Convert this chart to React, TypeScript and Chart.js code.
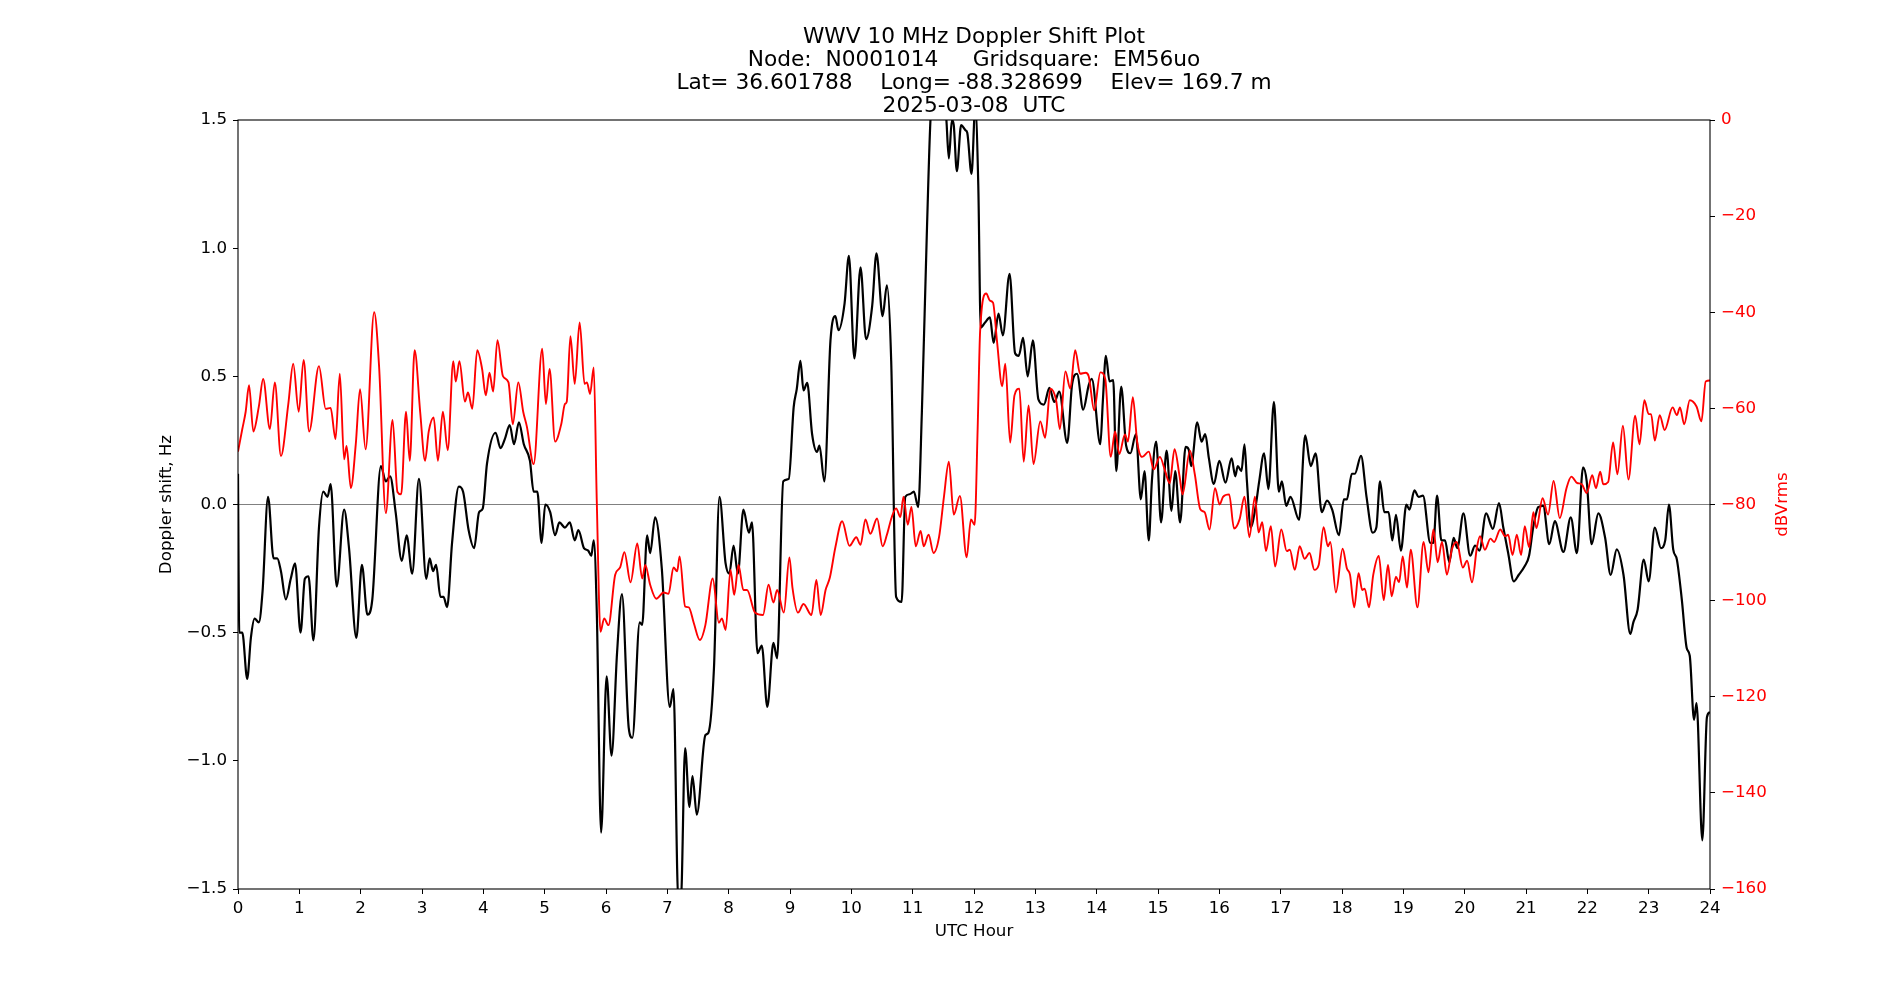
import React, { useEffect, useRef } from "react";
import { Chart, registerables } from "chart.js";

Chart.register(...registerables);

const titleLines = [
  "WWV 10 MHz Doppler Shift Plot",
  "Node:  N0001014     Gridsquare:  EM56uo",
  "Lat= 36.601788    Long= -88.328699    Elev= 169.7 m",
  "2025-03-08  UTC",
];

const xAxisLabel = "UTC Hour";
const leftAxisLabel = "Doppler shift, Hz";
const rightAxisLabel = "dBVrms";

// Doppler shift (black), Hz
const dopplerHours = [
  0.0, 0.02, 0.07, 0.15, 0.21, 0.27, 0.34, 0.4, 0.49, 0.58, 0.64, 0.7, 0.78, 0.86, 0.93,
  1.02, 1.09, 1.15, 1.23, 1.32, 1.39, 1.46, 1.51, 1.61, 1.73, 1.81, 1.93,
  2.02, 2.11, 2.19, 2.33, 2.41, 2.48, 2.57, 2.67, 2.75, 2.84, 2.95,
  3.07, 3.125, 3.18, 3.23, 3.3, 3.35, 3.41, 3.49, 3.6, 3.67, 3.76, 3.85, 3.93, 3.99,
  4.06, 4.2, 4.28, 4.35, 4.43, 4.5, 4.58, 4.66, 4.76, 4.82, 4.88, 4.95,
  5.01, 5.09, 5.17, 5.24, 5.33, 5.41, 5.49, 5.55, 5.64, 5.71, 5.76, 5.8, 5.85, 5.92,
  6.01, 6.09, 6.18, 6.26, 6.37, 6.43, 6.55, 6.59, 6.67, 6.72, 6.8, 6.91,
  7.04, 7.1, 7.18, 7.22, 7.29, 7.36, 7.41, 7.48, 7.62, 7.67, 7.76, 7.85, 7.95,
  8.01, 8.08, 8.15, 8.24, 8.33, 8.38, 8.47, 8.54, 8.63, 8.73, 8.79, 8.89, 8.98,
  9.06, 9.11, 9.17, 9.22, 9.28, 9.36, 9.44, 9.48, 9.56, 9.66, 9.74, 9.79, 9.89, 9.96,
  10.05, 10.15, 10.24, 10.34, 10.41, 10.51, 10.58, 10.65, 10.73, 10.82, 10.88, 10.95,
  11.02, 11.09, 11.15, 11.23, 11.29, 11.35, 11.5, 11.55, 11.59, 11.64, 11.67, 11.72, 11.79, 11.86, 11.89, 11.96,
  12.02, 12.07, 12.11, 12.18, 12.26, 12.32, 12.4, 12.47, 12.58, 12.67, 12.73, 12.8, 12.875, 12.96,
  13.05, 13.14, 13.23, 13.31, 13.39, 13.52, 13.6, 13.68, 13.78, 13.87, 13.92,
  14.06, 14.1, 14.15, 14.21, 14.27, 14.32, 14.4, 14.48, 14.55, 14.64, 14.72, 14.78, 14.85, 14.9, 14.97,
  15.05, 15.14, 15.22, 15.28, 15.36, 15.45, 15.5, 15.54, 15.64, 15.71, 15.77, 15.83, 15.91,
  16.0, 16.1, 16.2, 16.26, 16.3, 16.36, 16.41, 16.45, 16.51, 16.59, 16.65, 16.73, 16.8, 16.89, 16.97,
  17.02, 17.09, 17.16, 17.3, 17.4, 17.49, 17.57, 17.67, 17.755, 17.84, 17.95,
  18.03, 18.08, 18.16, 18.21, 18.31, 18.4, 18.5, 18.56, 18.62, 18.69, 18.76, 18.82, 18.88, 18.96,
  19.05, 19.1, 19.18, 19.25, 19.32, 19.44, 19.49, 19.55, 19.62, 19.68, 19.75, 19.82, 19.88, 19.98,
  20.09, 20.17, 20.24, 20.35, 20.46, 20.56, 20.63, 20.71, 20.8, 20.88, 20.98,
  21.05, 21.12, 21.2, 21.28, 21.38, 21.47, 21.61, 21.73, 21.83, 21.93, 21.99,
  22.07, 22.18, 22.29, 22.38, 22.48, 22.59, 22.7, 22.75, 22.82, 22.92,
  23.0, 23.1, 23.2, 23.27, 23.33, 23.4, 23.46, 23.54, 23.62, 23.67, 23.74, 23.78, 23.875, 23.95, 24.0,
];
const dopplerHz = [
  0.12, -0.5, -0.5, -0.68, -0.52, -0.445, -0.46, -0.34, 0.03, -0.21, -0.21, -0.26, -0.37, -0.29, -0.23,
  -0.5, -0.29, -0.28, -0.53, -0.09, 0.05, 0.03, 0.08, -0.32, -0.02, -0.17, -0.52,
  -0.235, -0.43, -0.37, 0.15, 0.09, 0.11, -0.03, -0.22, -0.12, -0.27, 0.1,
  -0.29, -0.21, -0.26, -0.235, -0.36, -0.36, -0.4, -0.15, 0.07, 0.05, -0.1, -0.17, -0.03, -0.016,
  0.16, 0.28, 0.22, 0.255, 0.31, 0.235, 0.32, 0.235, 0.17, 0.05, 0.05, -0.15,
  0.0, -0.03, -0.12, -0.07, -0.09, -0.07, -0.14, -0.1, -0.17, -0.18, -0.2, -0.14, -0.42, -1.28,
  -0.67, -0.98, -0.58, -0.35, -0.87, -0.91, -0.46, -0.47, -0.12, -0.19, -0.05, -0.25,
  -0.79, -0.72, -1.55, -1.55, -0.95, -1.18, -1.06, -1.21, -0.9, -0.89, -0.64, 0.03, -0.23,
  -0.27, -0.16, -0.27, -0.02, -0.11, -0.07, -0.58, -0.55, -0.79, -0.54, -0.6, 0.09, 0.1,
  0.38, 0.45, 0.56, 0.445, 0.475, 0.275, 0.205, 0.23, 0.09, 0.64, 0.735, 0.68, 0.785, 0.97,
  0.57, 0.925, 0.645, 0.775, 0.98, 0.735, 0.855, 0.56, -0.36, -0.38, 0.03, 0.04,
  0.05, -0.01, 0.36, 1.05, 1.5, 1.65, 1.65, 1.5, 1.35, 1.5, 1.48, 1.3, 1.48, 1.46, 1.45, 1.29,
  1.55, 1.245, 0.69, 0.71, 0.73, 0.63, 0.745, 0.66, 0.9, 0.59, 0.58, 0.65, 0.5, 0.64,
  0.41, 0.39, 0.455, 0.4, 0.44, 0.24, 0.47, 0.51, 0.37, 0.465, 0.49,
  0.235, 0.4, 0.58, 0.48, 0.485, 0.13, 0.46, 0.23, 0.2, 0.275, 0.02, 0.13, -0.14, 0.09, 0.245,
  -0.07, 0.21, -0.025, 0.13, -0.07, 0.225, 0.215, 0.15, 0.32, 0.245, 0.275, 0.18, 0.08,
  0.17, 0.085, 0.18, 0.11, 0.15, 0.13, 0.235, 0.09, -0.09, -0.01, 0.09, 0.2, 0.06, 0.4, 0.05,
  0.09, -0.005, 0.03, -0.06, 0.27, 0.15, 0.2, -0.03, 0.015, -0.02, -0.12,
  0.02, 0.02, 0.12, 0.12, 0.19, 0.03, -0.11, -0.09, 0.09, -0.03, -0.03, -0.14, -0.04, -0.18,
  0.0, -0.02, 0.055, 0.03, 0.035, -0.15, -0.15, 0.035, -0.14, -0.14, -0.225, -0.13, -0.17, -0.035,
  -0.2, -0.16, -0.18, -0.035, -0.095, 0.005, -0.09, -0.19, -0.3, -0.275, -0.24,
  -0.2, -0.085, -0.01, -0.005, -0.155, -0.065, -0.185, -0.05, -0.19, 0.145, 0.09,
  -0.155, -0.035, -0.13, -0.275, -0.175, -0.275, -0.505, -0.46, -0.41, -0.215,
  -0.3, -0.09, -0.17, -0.14, 0.0, -0.175, -0.215, -0.37, -0.56, -0.59, -0.84, -0.775, -1.31, -0.83, -0.81,
];

// Received power (red), dBVrms
const powerHours = [
  0.0, 0.07, 0.125, 0.18, 0.25, 0.34, 0.41, 0.52, 0.6, 0.7, 0.82, 0.9, 0.99,
  1.07, 1.16, 1.32, 1.43, 1.51, 1.59, 1.66, 1.73, 1.77, 1.84, 1.92, 1.99,
  2.08, 2.22, 2.3, 2.41, 2.52, 2.6, 2.66, 2.74, 2.8, 2.88, 2.97,
  3.05, 3.11, 3.19, 3.26, 3.34, 3.42, 3.51, 3.55, 3.61, 3.7, 3.75, 3.82, 3.9, 3.98,
  4.04, 4.1, 4.16, 4.23, 4.32, 4.41, 4.48, 4.57, 4.65, 4.71, 4.82, 4.96,
  5.02, 5.08, 5.17, 5.27, 5.33, 5.36, 5.42, 5.49, 5.57, 5.65, 5.69, 5.74, 5.8, 5.85, 5.91, 5.97,
  6.04, 6.15, 6.23, 6.3, 6.4, 6.51, 6.59, 6.64, 6.72, 6.82, 6.94,
  7.02, 7.1, 7.16, 7.2, 7.29, 7.35, 7.43, 7.53, 7.62, 7.74, 7.84, 7.89, 7.95,
  8.03, 8.09, 8.16, 8.24, 8.3, 8.43, 8.56, 8.65, 8.73, 8.79, 8.9, 8.99,
  9.04, 9.13, 9.22, 9.35, 9.43, 9.5, 9.58, 9.65, 9.74, 9.85, 9.97,
  10.08, 10.15, 10.23, 10.31, 10.42, 10.51, 10.58, 10.66, 10.73, 10.8, 10.85, 10.92, 10.98,
  11.05, 11.13, 11.18, 11.26, 11.34, 11.43, 11.51, 11.59, 11.67, 11.77, 11.88, 11.95,
  12.01, 12.06, 12.1, 12.2, 12.26, 12.31, 12.375, 12.46, 12.51, 12.59, 12.66, 12.74, 12.81, 12.89, 12.97,
  13.08, 13.16, 13.245, 13.34, 13.4, 13.49, 13.57, 13.65, 13.73, 13.82, 13.87, 13.96,
  14.06, 14.14, 14.23, 14.3, 14.37, 14.46, 14.51, 14.59, 14.66, 14.74, 14.85, 14.93,
  15.03, 15.12, 15.19, 15.27, 15.35, 15.4, 15.52, 15.6, 15.69, 15.76, 15.84, 15.93,
  16.005, 16.06, 16.16, 16.24, 16.33, 16.41, 16.49, 16.58, 16.64, 16.7, 16.76, 16.84, 16.91,
  17.01, 17.1, 17.15, 17.23, 17.31, 17.39, 17.47, 17.55, 17.62, 17.7, 17.77, 17.81, 17.9,
  18.01, 18.08, 18.13, 18.2, 18.27, 18.33, 18.37, 18.44, 18.51, 18.6, 18.68, 18.75, 18.81, 18.88, 18.93, 18.99,
  19.06, 19.12, 19.23, 19.33, 19.41, 19.49, 19.56, 19.63, 19.71, 19.79, 19.87, 19.97,
  20.04, 20.12, 20.2, 20.25, 20.33, 20.42, 20.48, 20.58, 20.66, 20.71, 20.78, 20.85, 20.92, 20.98,
  21.05, 21.12, 21.17, 21.27, 21.36, 21.45, 21.55, 21.66, 21.74, 21.83, 21.91, 21.99,
  22.08, 22.14, 22.21, 22.26, 22.34, 22.42, 22.49, 22.58, 22.67, 22.78, 22.85, 22.93,
  23.0, 23.04, 23.1, 23.18, 23.26, 23.39, 23.46, 23.51, 23.58, 23.67, 23.78, 23.86, 23.93, 24.0,
];
const powerDbv = [
  -69, -64.3, -60.7, -55.2, -64.8, -59.6, -53.9, -64.3, -54.6, -69.9, -59.1, -50.7, -60.7,
  -49.9, -64.8, -51.2, -60.1, -59.9, -66.4, -52.8, -70.6, -67.8, -76.6, -67.5, -56,
  -68.5, -40, -51.2, -81.8, -62.4, -77.4, -77.9, -60.7, -70.9, -47.9, -60.7,
  -70.9, -64.8, -61.9, -70.9, -60.7, -68.7, -50.2, -54.4, -50.2, -58.6, -56.7, -60.1, -47.9, -51.8,
  -57.3, -52.6, -56.5, -45.8, -53.3, -54.6, -63.3, -54.6, -60.7, -63.8, -71.6, -47.6,
  -59.1, -51.8, -66.9, -63.3, -59.1, -58.6, -45, -54.9, -42.1, -54.9, -54.6, -57, -51.5, -79.5, -106.5, -103.7,
  -105.1, -94.6, -93.1, -89.9, -96.2, -88.1, -95.4, -92.6, -96.7, -99.6, -98.3,
  -98.6, -93.1, -93.9, -90.8, -101.2, -101.4, -104.6, -108.2, -105.1, -95.4, -104.6, -103.7, -106.1,
  -93.6, -98.8, -92.6, -97.8, -97.8, -102.5, -103, -96.7, -100.4, -97.8, -102.5, -91,
  -97.3, -102.5, -100.7, -103, -95.7, -103, -97.8, -95.2, -88.9, -83.5, -88.6,
  -86.8, -88.4, -83.1, -86.1, -82.9, -88.7, -86.3, -82.6, -80.8, -82.6, -78.4, -84.2, -80.5,
  -88.7, -85.5, -88.7, -86.3, -90.1, -86.8, -78.4, -71.1, -82.1, -78.2, -91, -83.1,
  -84.2, -64, -43.9, -36.1, -37.6, -38, -46, -55.4, -50.7, -67.1, -57.3, -55.9, -71.1, -59.4, -71.6,
  -62.7, -66.1, -55.9, -58.4, -64.3, -52.3, -55.9, -47.9, -52.8, -52.6, -53.3, -60.4,
  -52.5, -53.9, -70.1, -64.8, -69.5, -65.4, -66.9, -57.7, -66.9, -70.1, -69, -72.7,
  -70.1, -73.2, -75.6, -68.5, -74, -77.9, -68.8, -73.7, -81, -81.6, -85.2, -76.6,
  -80, -78.4, -77.9, -85, -83.1, -78.4, -86.8, -78.4, -85.8, -83.7, -89.7, -84.5, -92.9,
  -85.2, -89.7, -89.4, -93.6, -88.7, -91.3, -90.1, -93.6, -92.6, -84.7, -88.7, -87.8, -98.3,
  -89.2, -93.3, -94.6, -101.4, -94.3, -97.8, -97.5, -101.4, -94.6, -90.7, -99.9, -92.6, -99.1, -95, -96.2, -90.8,
  -97.3, -89.4, -101.4, -87.8, -94.1, -85.2, -92, -87.8, -94.6, -89.4, -87.8, -93.1,
  -91.7, -96.2, -88.9, -86.6, -89.4, -87.1, -87.8, -85.2, -86.6, -86.3, -90.5, -86.3, -90.5, -84.5,
  -88.9, -81.6, -84.9, -78.7, -82.1, -75.1, -82.8, -76.6, -74.2, -75.5, -75.8, -77.6,
  -73.9, -76.6, -73.2, -75.8, -75.3, -67.1, -73.7, -63.6, -74.8, -61.5, -67.5, -58.3,
  -61.2, -61.2, -66.7, -61.4, -64.5, -59.8, -61.4, -59.8, -63.3, -58.3, -59.6, -62.7, -54.4, -54.2,
];

const zeroLineHours = [0, 24];
const zeroLineHz = [0, 0];

const FONT = "'DejaVu Sans', 'Liberation Sans', sans-serif";
const TICK_SIZE = 16.7;
const TITLE_SIZE = 21.7;

const withMinus = (s: string) => s.replace("-", "\u2212");

const framePlugin = {
  id: "frameBox",
  afterDatasetsDraw(chart: any) {
    const { ctx, chartArea } = chart;
    const { left, top, right, bottom } = chartArea;
    ctx.save();
    ctx.strokeStyle = "#000";
    ctx.lineWidth = 1.1;
    ctx.strokeRect(left, top, right - left, bottom - top);
    ctx.restore();
  },
};

// Right-hand axis label, reading bottom-to-top like the reference
const rightLabelPlugin = {
  id: "rightAxisLabel",
  afterDraw(chart: any) {
    const { ctx, chartArea } = chart;
    const cy = (chartArea.top + chartArea.bottom) / 2;
    const cx = chartArea.right + 72.5;
    ctx.save();
    ctx.translate(cx, cy);
    ctx.rotate(-Math.PI / 2);
    ctx.fillStyle = "#ff0000";
    ctx.font = `${TICK_SIZE}px ${FONT}`;
    ctx.textAlign = "center";
    ctx.textBaseline = "middle";
    ctx.fillText(rightAxisLabel, 0, 0);
    ctx.restore();
  },
};

export default function App() {
  const canvasRef = useRef<HTMLCanvasElement | null>(null);

  useEffect(() => {
    document.body.style.margin = "0";
    const canvas = canvasRef.current;
    if (!canvas) return;
    const toPoints = (xs: number[], ys: number[]) => xs.map((x, i) => ({ x, y: ys[i] }));

    const chart = new Chart(canvas, {
      type: "line",
      data: {
        datasets: [
          {
            label: rightAxisLabel,
            data: toPoints(powerHours, powerDbv),
            yAxisID: "y2",
            borderColor: "#ff0000",
            borderWidth: 1.9,
            pointRadius: 0,
            cubicInterpolationMode: "monotone",
            fill: false,
            order: 0,
            clip: 0,
          },
          {
            label: leftAxisLabel,
            data: toPoints(dopplerHours, dopplerHz),
            yAxisID: "y",
            borderColor: "#000000",
            borderWidth: 2.2,
            pointRadius: 0,
            cubicInterpolationMode: "monotone",
            fill: false,
            order: 1,
            clip: 0,
          },
          {
            label: "zero",
            data: toPoints(zeroLineHours, zeroLineHz),
            yAxisID: "y",
            borderColor: "#808080",
            borderWidth: 1.1,
            pointRadius: 0,
            fill: false,
            order: 2,
            clip: 0,
          },
        ],
      } as any,
      options: {
        responsive: false,
        animation: false,
        devicePixelRatio: 1,
        events: [],
        layout: { padding: 0 },
        plugins: {
          legend: { display: false },
          tooltip: { enabled: false },
          title: {
            display: true,
            text: titleLines,
            color: "#000",
            fullSize: false,
            align: "center",
            font: { family: FONT, size: TITLE_SIZE, weight: "normal", lineHeight: 23 / TITLE_SIZE },
            padding: { top: 26, bottom: 2 },
          },
        },
        scales: {
          x: {
            type: "linear",
            position: "bottom",
            min: 0,
            max: 24,
            ticks: {
              stepSize: 1,
              autoSkip: false,
              maxRotation: 0,
              color: "#000",
              padding: 5,
              font: { family: FONT, size: TICK_SIZE },
              callback: (v: any) => String(v),
            },
            grid: { drawOnChartArea: false, drawTicks: true, tickLength: 5, color: "#000" },
            border: { display: false },
            title: {
              display: true,
              text: xAxisLabel,
              color: "#000",
              font: { family: FONT, size: TICK_SIZE },
              padding: { top: 0, bottom: 58 },
            },
            afterFit: (s: any) => {
              s.height = 111;
            },
          },
          y: {
            type: "linear",
            position: "left",
            min: -1.5,
            max: 1.5,
            ticks: {
              stepSize: 0.5,
              color: "#000",
              padding: 6,
              font: { family: FONT, size: TICK_SIZE },
              callback: (v: any) => withMinus(Number(v).toFixed(1)),
            },
            grid: { drawOnChartArea: false, drawTicks: true, tickLength: 5, color: "#000" },
            border: { display: false },
            title: {
              display: true,
              text: leftAxisLabel,
              color: "#000",
              font: { family: FONT, size: TICK_SIZE },
              padding: { top: 157, bottom: 0 },
            },
            afterFit: (s: any) => {
              s.width = 238;
            },
          },
          y2: {
            type: "linear",
            position: "right",
            min: -160,
            max: 0,
            ticks: {
              stepSize: 20,
              color: "#ff0000",
              padding: 6,
              font: { family: FONT, size: TICK_SIZE },
              callback: (v: any) => withMinus(String(v)),
            },
            grid: { drawOnChartArea: false, drawTicks: true, tickLength: 5, color: "#000" },
            border: { display: false },
            title: { display: false },
            afterFit: (s: any) => {
              s.width = 190;
            },
          },
        },
      } as any,
      plugins: [framePlugin, rightLabelPlugin],
    });

    return () => {
      chart.destroy();
    };
  }, []);

  return (
    <div style={{ position: "absolute", left: 0, top: 0, width: 1900, height: 1000, background: "#fff" }}>
      <canvas ref={canvasRef} width={1900} height={1000} style={{ width: 1900, height: 1000, display: "block" }} />
    </div>
  );
}
